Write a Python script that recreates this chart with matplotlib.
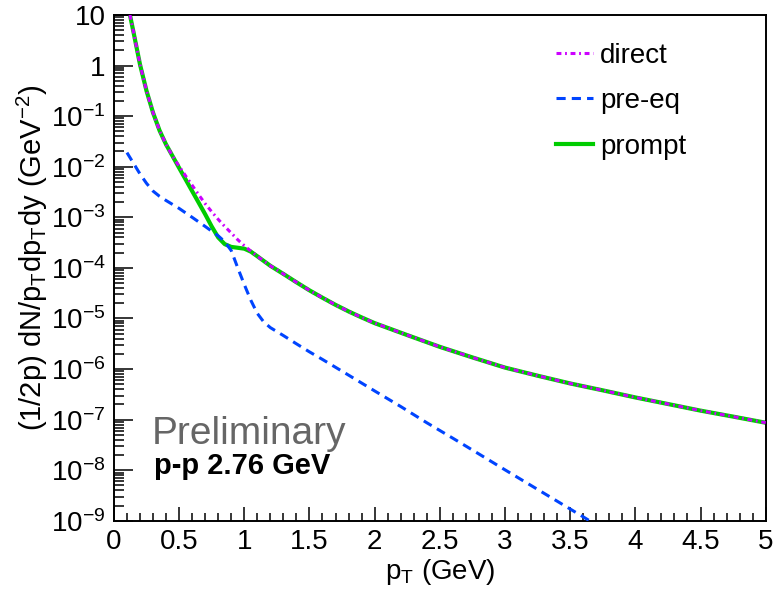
import numpy as np
import matplotlib
matplotlib.use('Agg')
import matplotlib.pyplot as plt
from matplotlib.ticker import FuncFormatter, LogLocator, MultipleLocator

plt.rcParams['font.family'] = ['Liberation Sans', 'DejaVu Sans']
plt.rcParams['mathtext.fontset'] = 'custom'
plt.rcParams['mathtext.rm'] = 'Liberation Sans'
plt.rcParams['mathtext.it'] = 'Liberation Sans:italic'
plt.rcParams['mathtext.bf'] = 'Liberation Sans:bold'

# direct photons
pt_direct = [0.123, 0.15, 0.2, 0.25, 0.3, 0.35, 0.4, 0.45, 0.5, 0.55, 0.6, 0.65,
             0.7, 0.75, 0.8, 0.85, 0.9, 0.95, 1.0, 1.05, 1.1, 1.2, 1.3, 1.4, 1.5,
             1.6, 1.7, 1.8, 1.9, 2.0, 2.25, 2.5, 2.75, 3.0, 3.25, 3.5, 3.75, 4.0,
             4.25, 4.5, 4.75, 5.0]
y_direct = [10, 4.6, 1.05, 0.316, 0.117, 0.052, 0.0275, 0.0162, 0.0102, 6.6e-3,
            4.3e-3, 2.8e-3, 1.86e-3, 1.29e-3, 9.1e-4, 6.6e-4, 4.9e-4, 3.6e-4,
            2.75e-4, 2.15e-4, 1.7e-4, 1.1e-4, 7.6e-5, 5.2e-5, 3.6e-5, 2.57e-5,
            1.86e-5, 1.38e-5, 1.05e-5, 8.1e-6, 4.7e-6, 2.75e-6, 1.7e-6, 1.07e-6,
            7.4e-7, 5.2e-7, 3.8e-7, 2.75e-7, 2.04e-7, 1.51e-7, 1.15e-7, 8.7e-8]

# pre-equilibrium photons
pt_preeq = [0.1, 0.15, 0.2, 0.25, 0.3, 0.35, 0.4, 0.5, 0.6, 0.7, 0.8, 0.85, 0.9,
            0.95, 1.0, 1.05, 1.1, 1.15, 1.2, 1.3, 1.4, 1.5, 1.6, 1.8, 2.0, 2.2,
            2.4, 2.6, 2.8, 3.0, 3.2, 3.4, 3.6, 3.7]
y_preeq = [1.9e-2, 1.17e-2, 7.2e-3, 4.7e-3, 3.3e-3, 2.6e-3, 2.15e-3, 1.5e-3,
           1.0e-3, 6.6e-4, 4.3e-4, 3.3e-4, 2.2e-4, 1.0e-4, 4.7e-5, 2.3e-5,
           1.26e-5, 8.5e-6, 6.6e-6, 4.6e-6, 3.16e-6, 2.19e-6, 1.55e-6, 7.6e-7,
           3.7e-7, 1.82e-7, 8.7e-8, 4.3e-8, 2.1e-8, 1.02e-8, 5e-9, 2.45e-9,
           1.2e-9, 8.3e-10]

# prompt photons
pt_prompt = [0.123, 0.15, 0.2, 0.25, 0.3, 0.35, 0.4, 0.45, 0.5, 0.55, 0.6, 0.65,
             0.7, 0.75, 0.8, 0.85, 0.9, 0.95, 1.0, 1.05, 1.1, 1.2, 1.3, 1.4, 1.5,
             1.6, 1.7, 1.8, 1.9, 2.0, 2.25, 2.5, 2.75, 3.0, 3.25, 3.5, 3.75, 4.0,
             4.25, 4.5, 4.75, 5.0]
y_prompt = [10, 4.6, 1.05, 0.316, 0.117, 0.052, 0.0275, 0.0162, 9.5e-3, 5.6e-3,
            3.3e-3, 1.95e-3, 1.15e-3, 6.6e-4, 4.0e-4, 2.95e-4, 2.6e-4, 2.5e-4,
            2.4e-4, 2.1e-4, 1.7e-4, 1.1e-4, 7.6e-5, 5.2e-5, 3.6e-5, 2.57e-5,
            1.86e-5, 1.38e-5, 1.05e-5, 8.1e-6, 4.7e-6, 2.75e-6, 1.7e-6, 1.07e-6,
            7.4e-7, 5.2e-7, 3.8e-7, 2.75e-7, 2.04e-7, 1.51e-7, 1.15e-7, 8.7e-8]

fig = plt.figure(figsize=(7.75, 5.98), dpi=100)
ax = fig.add_axes([0.147, 0.129, 0.841, 0.846])

ax.plot(pt_prompt, y_prompt, color='#00cc00', lw=3.0, label='prompt', zorder=2)
ax.plot(pt_direct, y_direct, color='#cc00ff', lw=2.2, dashes=(1.6, 1.2, 0.6, 1.2),
        label='direct', zorder=3)
ax.plot(pt_preeq, y_preeq, color='#0044ff', lw=2.2, dashes=(3.0, 2.0),
        label='pre-eq', zorder=4)

ax.set_yscale('log')
ax.set_xlim(0, 5)
ax.set_ylim(1e-9, 10)

def ylab(v, pos):
    e = int(round(np.log10(v)))
    if e == 0:
        return '1'
    if e == 1:
        return '10'
    return r'$\mathregular{10^{%d}}$' % e

ax.yaxis.set_major_locator(LogLocator(base=10, numticks=20))
ax.yaxis.set_minor_locator(LogLocator(base=10, subs=np.arange(2, 10), numticks=20))
ax.yaxis.set_major_formatter(FuncFormatter(ylab))
ax.yaxis.set_minor_formatter(FuncFormatter(lambda v, p: ''))
ax.xaxis.set_major_locator(MultipleLocator(0.5))
ax.xaxis.set_minor_locator(MultipleLocator(0.1))
ax.xaxis.set_major_formatter(FuncFormatter(lambda v, p: '%g' % v))

ax.tick_params(which='both', direction='in', top=False, right=False, labelsize=20)
ax.tick_params(axis='x', which='major', length=10, width=1.1, pad=6)
ax.tick_params(axis='x', which='minor', length=5.5, width=1.1)
ax.tick_params(axis='y', which='major', length=14, width=1.1, pad=6)
ax.tick_params(axis='y', which='minor', length=7, width=1.1)
for s in ax.spines.values():
    s.set_linewidth(1.4)

ax.set_xlabel(r'p$_\mathregular{T}$ (GeV)', fontsize=20)
ax.xaxis.set_label_coords(0.50, -0.072)
ax.set_ylabel(r'(1/2p) dN/p$_\mathregular{T}$dp$_\mathregular{T}$dy (GeV$^\mathregular{-2}$)',
              fontsize=21)
ax.yaxis.set_label_coords(-0.098, 0.52)

ax.text(0.058, 0.152, 'Preliminary', transform=ax.transAxes, fontsize=28,
        color='#666666', va='baseline')
ax.text(0.061, 0.092, 'p-p 2.76 GeV', transform=ax.transAxes, fontsize=21,
        fontweight='bold', va='baseline')

h, l = ax.get_legend_handles_labels()
order = [1, 2, 0]
ax.legend([h[i] for i in order], [l[i] for i in order], loc='upper left',
          bbox_to_anchor=(0.678, 0.945), frameon=False, fontsize=20,
          borderpad=0, borderaxespad=0, handlelength=1.35, handletextpad=0.25,
          labelspacing=0.7)

fig.savefig('out.png', dpi=100)
